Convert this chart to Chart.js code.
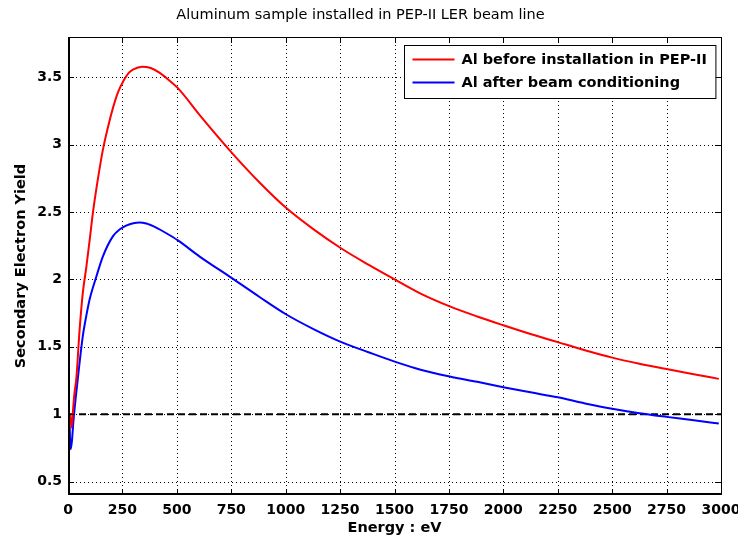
<!DOCTYPE html>
<html>
<head>
<meta charset="utf-8">
<script src="https://cdn.jsdelivr.net/npm/chart.js@4"></script>
<style>
  body { margin: 0; background: #fff; }
  #wrap { width: 738px; height: 539px; }
</style>
</head>
<body>
<div id="wrap"><canvas id="seyChart" width="738" height="539"></canvas></div>
<script>
// SEY curves (energy in eV, yield)
var energyBefore = [10, 17, 24, 30, 38, 53, 68, 84, 100, 114, 130, 160, 185, 206, 230, 257, 280, 300, 340, 380, 420, 460, 505, 605, 753, 880, 1003, 1130, 1256, 1380, 1501, 1620, 1754, 1880, 2000, 2125, 2250, 2375, 2500, 2625, 2750, 2875, 2990];
var yieldBefore  = [1.0, 0.9, 1.05, 1.16, 1.26, 1.62, 1.9, 2.09, 2.3, 2.49, 2.67, 2.96, 3.14, 3.27, 3.39, 3.48, 3.535, 3.56, 3.58, 3.57, 3.535, 3.485, 3.42, 3.22, 2.94, 2.72, 2.53, 2.37, 2.23, 2.11, 2.0, 1.895, 1.8, 1.725, 1.66, 1.595, 1.535, 1.475, 1.42, 1.375, 1.335, 1.297, 1.262];

var energyAfter = [6, 12, 18, 25, 38, 53, 68, 84, 99, 130, 160, 206, 240, 267, 300, 329, 360, 405, 450, 505, 605, 753, 880, 1003, 1130, 1256, 1380, 1501, 1620, 1754, 1880, 2000, 2125, 2250, 2375, 2500, 2625, 2750, 2875, 2990];
var yieldAfter  = [1.0, 0.74, 0.8, 0.95, 1.16, 1.38, 1.58, 1.73, 1.85, 2.02, 2.17, 2.32, 2.375, 2.4, 2.418, 2.423, 2.415, 2.385, 2.345, 2.29, 2.17, 2.01, 1.87, 1.74, 1.63, 1.535, 1.46, 1.39, 1.33, 1.28, 1.24, 1.2, 1.162, 1.125, 1.08, 1.04, 1.007, 0.98, 0.955, 0.93];

// yield = 1 reference line
var unityEnergy = [0, 3000];
var unityYield  = [1, 1];

var energyTicks = [0, 250, 500, 750, 1000, 1250, 1500, 1750, 2000, 2250, 2500, 2750, 3000];
var yieldTicks  = [0.5, 1, 1.5, 2, 2.5, 3, 3.5];

var seriesLabels = ['Al before installation in PEP-II', 'Al after beam conditioning'];

function toPoints(xs, ys) {
  return xs.map(function (x, i) { return { x: x, y: ys[i] }; });
}

var tickFont = { family: 'DejaVu Sans', size: 14, weight: 'bold' };
var labelFont = { family: 'DejaVu Sans', size: 14.5, weight: 'bold' };

// matlab style: dotted grid, box with inward ticks, boxed legend
var matlabAxes = {
  id: 'matlabAxes',
  beforeDatasetsDraw: function (chart) {
    var ctx = chart.ctx, a = chart.chartArea;
    var xs = chart.scales.x, ys = chart.scales.y;
    ctx.save();
    ctx.strokeStyle = '#000';
    ctx.lineWidth = 1;
    ctx.setLineDash([1, 3]);
    xs.ticks.forEach(function (t) {
      var px = Math.round(xs.getPixelForValue(t.value)) + 0.5;
      ctx.beginPath(); ctx.moveTo(px, a.top); ctx.lineTo(px, a.bottom); ctx.stroke();
    });
    ys.ticks.forEach(function (t) {
      var py = Math.round(ys.getPixelForValue(t.value)) + 0.5;
      ctx.beginPath(); ctx.moveTo(a.left, py); ctx.lineTo(a.right, py); ctx.stroke();
    });
    ctx.restore();
  },
  afterDatasetsDraw: function (chart) {
    var ctx = chart.ctx, a = chart.chartArea;
    var xs = chart.scales.x, ys = chart.scales.y;
    var len = 6;
    ctx.save();
    ctx.strokeStyle = '#000';
    ctx.setLineDash([]);
    ctx.lineWidth = 1;
    xs.ticks.forEach(function (t) {
      var px = Math.round(xs.getPixelForValue(t.value)) + 0.5;
      ctx.beginPath();
      ctx.moveTo(px, a.bottom); ctx.lineTo(px, a.bottom - len);
      ctx.moveTo(px, a.top); ctx.lineTo(px, a.top + len);
      ctx.stroke();
    });
    ys.ticks.forEach(function (t) {
      var py = Math.round(ys.getPixelForValue(t.value)) + 0.5;
      ctx.beginPath();
      ctx.moveTo(a.left, py); ctx.lineTo(a.left + len, py);
      ctx.moveTo(a.right, py); ctx.lineTo(a.right - len, py);
      ctx.stroke();
    });
    // box
    ctx.beginPath();
    ctx.moveTo(a.left, a.top + 0.5); ctx.lineTo(a.right + 0.5, a.top + 0.5); ctx.lineTo(a.right + 0.5, a.bottom);
    ctx.stroke();
    ctx.lineWidth = 2;
    ctx.beginPath();
    ctx.moveTo(a.left + 1, a.top); ctx.lineTo(a.left + 1, a.bottom - 1); ctx.lineTo(a.right + 1, a.bottom - 1);
    ctx.stroke();
    ctx.restore();
  },
  afterDraw: function (chart) {
    var ctx = chart.ctx, a = chart.chartArea;
    var sets = chart.data.datasets.filter(function (d) { return !d.hideInLegend; });
    ctx.save();
    ctx.font = 'bold 14.5px "DejaVu Sans"';
    var tw = 0;
    sets.forEach(function (d) { tw = Math.max(tw, ctx.measureText(d.label).width); });
    var w = tw + 66, h = 53;
    var x0 = Math.round(a.right - 6 - w) + 0.5, y0 = a.top + 8.5;
    ctx.fillStyle = '#fff';
    ctx.fillRect(x0, y0, w, h);
    ctx.strokeStyle = '#000';
    ctx.lineWidth = 1;
    ctx.strokeRect(x0, y0, w, h);
    ctx.textBaseline = 'middle';
    sets.forEach(function (d, i) {
      var cy = y0 + 14 + i * 23;
      ctx.strokeStyle = d.borderColor;
      ctx.lineWidth = 2;
      ctx.beginPath(); ctx.moveTo(x0 + 8, cy); ctx.lineTo(x0 + 50, cy); ctx.stroke();
      ctx.fillStyle = '#000';
      ctx.fillText(d.label, x0 + 57, cy + 1);
    });
    ctx.restore();
  }
};

new Chart(document.getElementById('seyChart'), {
  type: 'line',
  data: {
    datasets: [
      { label: seriesLabels[0], data: toPoints(energyBefore, yieldBefore), borderColor: '#ff0000', borderWidth: 2, pointRadius: 0, cubicInterpolationMode: 'monotone', fill: false },
      { label: seriesLabels[1], data: toPoints(energyAfter, yieldAfter), borderColor: '#0000ff', borderWidth: 2, pointRadius: 0, cubicInterpolationMode: 'monotone', fill: false },
      { label: 'SEY = 1', hideInLegend: true, data: toPoints(unityEnergy, unityYield), borderColor: '#000', borderWidth: 2, borderDash: [7, 4], pointRadius: 0, fill: false }
    ]
  },
  options: {
    responsive: false,
    animation: false,
    layout: { padding: { left: 0, right: 17, top: 0, bottom: 0 } },
    plugins: {
      legend: { display: false },
      tooltip: { enabled: false },
      title: {
        display: true,
        text: 'Aluminum sample installed in PEP-II LER beam line',
        color: '#000',
        font: { family: 'DejaVu Sans', size: 14.5, weight: 'normal' },
        padding: { top: 7, bottom: 12.6 }
      }
    },
    scales: {
      x: {
        type: 'linear',
        min: 0, max: 3000,
        afterBuildTicks: function (s) { s.ticks = energyTicks.map(function (v) { return { value: v }; }); },
        afterFit: function (s) { s.height = 44; s.paddingLeft = 0; s.paddingRight = 0; },
        grid: { display: false, drawTicks: false },
        border: { display: false },
        ticks: { autoSkip: false, maxRotation: 0, color: '#000', font: tickFont, padding: 7, callback: function (v) { return String(v); } },
        title: { display: true, text: 'Energy : eV', color: '#000', font: labelFont, padding: { top: 0, bottom: 2.3 } }
      },
      y: {
        type: 'linear',
        min: 0.4, max: 3.8,
        afterBuildTicks: function (s) { s.ticks = yieldTicks.map(function (v) { return { value: v }; }); },
        afterFit: function (s) { s.width = 68; s.paddingTop = 0; s.paddingBottom = 0; },
        grid: { display: false, drawTicks: false },
        border: { display: false },
        ticks: { color: '#000', font: tickFont, padding: 6, callback: function (v) { return String(v); } },
        title: { display: true, text: 'Secondary Electron Yield', color: '#000', font: labelFont, padding: { top: 12.5, bottom: 0 } }
      }
    }
  },
  plugins: [matlabAxes]
});
</script>
</body>
</html>
